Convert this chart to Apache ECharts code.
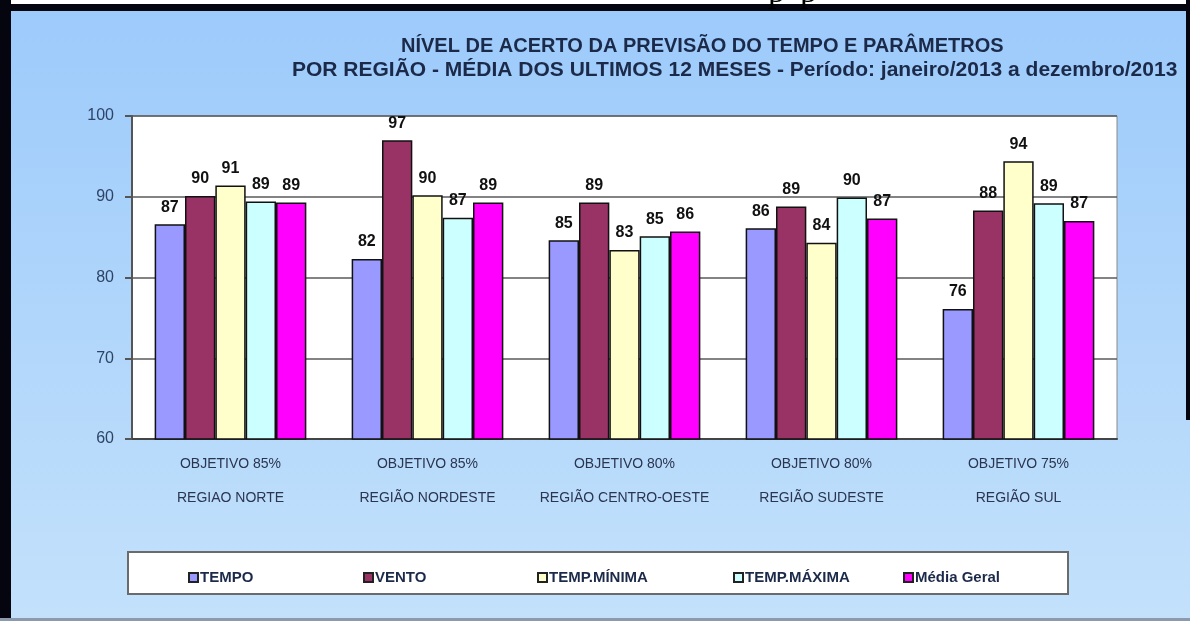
<!DOCTYPE html>
<html>
<head>
<meta charset="utf-8">
<script src="https://cdn.jsdelivr.net/npm/echarts@6/dist/echarts.min.js"></script>
<style>
  html, body { margin: 0; padding: 0; background: #fff; }
  #chart { width: 1190px; height: 621px; }
</style>
</head>
<body>
<div id="chart"></div>
<script>
// values
const categories = [
  'OBJETIVO 85%\nREGIAO NORTE',
  'OBJETIVO 85%\nREGIÃO NORDESTE',
  'OBJETIVO 80%\nREGIÃO CENTRO-OESTE',
  'OBJETIVO 80%\nREGIÃO SUDESTE',
  'OBJETIVO 75%\nREGIÃO SUL'
]
const seriesNames = ['TEMPO', 'VENTO', 'TEMP.MÍNIMA', 'TEMP.MÁXIMA', 'Média Geral']
const tempo = [86.6, 82.3, 84.6, 86.1, 76.1]
const vento = [90.1, 97.0, 89.3, 88.8, 88.3]
const tempMinima = [91.4, 90.2, 83.4, 84.3, 94.4]
const tempMaxima = [89.4, 87.4, 85.1, 89.9, 89.2]
const mediaGeral = [89.3, 89.3, 85.7, 87.3, 87.0]
const yTicks = [60, 70, 80, 90, 100]

const colors = ['#9999ff', '#993366', '#ffffcc', '#ccffff', '#ff00ff']
const seriesData = [tempo, vento, tempMinima, tempMaxima, mediaGeral]
const legendLeft = [183, 358, 532, 728, 898]

const textDark = '#1c2a4a'
const font = '"Liberation Sans", Arial, sans-serif'

const chart = echarts.init(document.getElementById('chart'))

chart.setOption({
  backgroundColor: {
    type: 'linear', x: 0, y: 0, x2: 0, y2: 1,
    colorStops: [
      { offset: 0, color: '#9ccafb' },
      { offset: 1, color: '#c3e1fb' }
    ]
  },
  textStyle: { fontFamily: font },
  title: [
    {
      text: 'NÍVEL DE ACERTO DA PREVISÃO DO TEMPO E PARÂMETROS',
      left: 396, top: 31,
      textStyle: { fontSize: 20, fontWeight: 'bold', color: textDark, fontFamily: font }
    },
    {
      text: 'POR REGIÃO - MÉDIA DOS ULTIMOS 12 MESES - Período: janeiro/2013 a dezembro/2013',
      left: 287, top: 55,
      textStyle: { fontSize: 21, fontWeight: 'bold', color: textDark, fontFamily: font }
    }
  ],
  graphic: [
    // frame pieces of the cropped screenshot
    { type: 'rect', shape: { x: 0, y: 0, width: 1190, height: 4 }, style: { fill: '#ffffff' }, z: 10 },
    { type: 'rect', shape: { x: 0, y: 4, width: 1190, height: 7 }, style: { fill: '#05050f' }, z: 10 },
    { type: 'rect', shape: { x: 0, y: 0, width: 11, height: 621 }, style: { fill: '#05050f' }, z: 10 },
    { type: 'rect', shape: { x: 1186, y: 0, width: 4, height: 420 }, style: { fill: '#05050f' }, z: 10 },
    { type: 'rect', shape: { x: 0, y: 618, width: 1190, height: 3 }, style: { fill: '#8c9aae' }, z: 10 },
    {
      type: 'text', left: 768, top: -24, z: 11,
      style: { text: 'p', fontSize: 34, fontFamily: '"Liberation Serif", serif', fill: '#000' }
    },
    {
      type: 'text', left: 800, top: -24, z: 11,
      style: { text: 'p', fontSize: 34, fontFamily: '"Liberation Serif", serif', fill: '#000' }
    },
    // legend box
    {
      type: 'rect', z: 1,
      shape: { x: 128, y: 552, width: 940, height: 42 },
      style: { fill: '#ffffff', stroke: '#6b6b6b', lineWidth: 2 }
    }
  ],
  legend: seriesNames.map((name, i) => ({
    data: [name],
    left: legendLeft[i], top: 565,
    itemWidth: 9, itemHeight: 9,
    icon: 'rect',
    itemStyle: { borderColor: '#222', borderWidth: 2 },
    textStyle: { fontSize: 15, fontWeight: 'bold', color: textDark, fontFamily: font, padding: [0, 0, 0, -3] },
    z: 5
  })),
  grid: {
    left: 132, right: 73, top: 116, bottom: 182,
    show: true, backgroundColor: '#ffffff', borderColor: '#8a8a8a', borderWidth: 1
  },
  xAxis: {
    type: 'category',
    data: categories,
    axisTick: { show: false },
    axisLine: { lineStyle: { color: '#444', width: 2 } },
    axisLabel: {
      interval: 0, margin: 8, fontSize: 14, lineHeight: 34, color: '#2a3550', fontFamily: font
    }
  },
  yAxis: {
    type: 'value',
    min: yTicks[0], max: yTicks[yTicks.length - 1], interval: 10,
    axisLine: { show: true, lineStyle: { color: '#555', width: 2 } },
    axisTick: { show: true, length: 7, lineStyle: { color: '#555', width: 2 } },
    axisLabel: { margin: 18, fontSize: 16, color: '#2d4466', fontFamily: font },
    splitLine: { lineStyle: { color: '#5a5a5a', width: 1.5 } }
  },
  series: seriesNames.map((name, i) => ({
    name: name,
    type: 'bar',
    data: seriesData[i],
    barGap: '0%',
    barCategoryGap: '23%',
    itemStyle: { color: colors[i], borderColor: '#111', borderWidth: 1.5 },
    label: {
      show: true, position: 'top', distance: 9,
      fontSize: 16, fontWeight: 'bold', color: '#111', fontFamily: font,
      formatter: p => Math.round(p.value)
    }
  }))
})
</script>
</body>
</html>
